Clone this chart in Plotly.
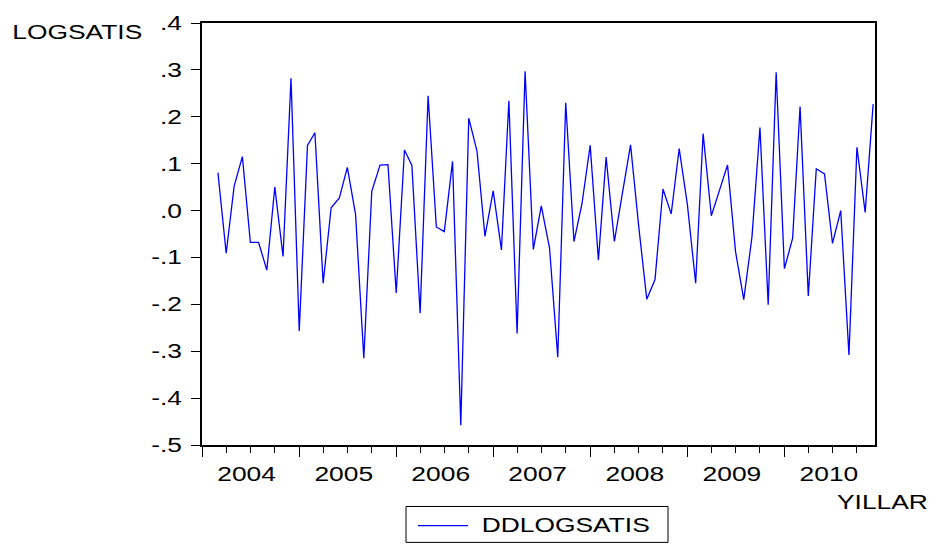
import pandas as pd
import plotly.graph_objects as go

# Monthly second difference of log sales, 2004M03 - 2010M12
first_month = "2004-03-01"
ddlogsatis = [
    0.081, -0.091, 0.052, 0.115, -0.068, -0.068, -0.127, 0.050, -0.098, 0.282,
    -0.257, 0.139, 0.166, -0.155, 0.006, 0.027, 0.092, -0.008, -0.315, 0.041,
    0.097, 0.098, -0.176, 0.129, 0.096, -0.219, 0.245, -0.035, -0.045, 0.105,
    -0.458, 0.197, 0.127, -0.055, 0.042, -0.084, 0.234, -0.262, 0.297, -0.083,
    0.010, -0.080, -0.313, 0.230, -0.066, 0.014, 0.139, -0.106, 0.114, -0.066,
    0.036, 0.140, -0.030, -0.189, -0.147, 0.046, -0.007, 0.132, 0.012, -0.155,
    0.164, -0.011, 0.042, 0.097, -0.087, -0.190, -0.056, 0.177, -0.201, 0.295,
    -0.124, -0.059, 0.222, -0.182, 0.089, 0.078, -0.070, 0.000, -0.308, 0.135,
    -0.004, 0.227,
]
y_tickvals = [-0.5, -0.4, -0.3, -0.2, -0.1, 0.0, 0.1, 0.2, 0.3, 0.4]
y_ticktext = ["-.5", "-.4", "-.3", "-.2", "-.1", ".0", ".1", ".2", ".3", ".4"]

series_name = "DDLOGSATIS"
y_title = "LOGSATIS"
x_title = "YILLAR"

months = pd.date_range(first_month, periods=len(ddlogsatis), freq="MS")

W, H = 936, 551
L, R, T, B = 202, 61, 16, 106
PW, PH = W - L - R, H - T - B
FONT = "Liberation Sans, Arial, sans-serif"
FS = 20
TEXT_WIDEN = 1.32  # horizontal widening applied to every label


def px(x):
    return (x - L) / PW


def py(y):
    return (H - B - y) / PH


fig = go.Figure()
fig.add_trace(go.Scatter(
    x=months, y=ddlogsatis, mode="lines", name=series_name,
    line=dict(color="#0000ff", width=1.3), showlegend=False,
))

fig.update_layout(
    width=W, height=H,
    margin=dict(l=L, r=R, t=T, b=B, pad=0),
    paper_bgcolor="white", plot_bgcolor="white",
    font=dict(family=FONT, size=FS, color="black"),
    xaxis=dict(
        type="date", range=["2004-01-01", "2010-12-08"],
        tick0="2004-01-01", dtick="M12", tickformat="%Y", ticklabelmode="period",
        ticklabelshift=-4,
        ticks="outside", ticklen=10, tickwidth=1.3, tickcolor="black",
        minor=dict(dtick="M3", tick0="2004-01-01", ticks="outside", ticklen=6,
                   tickwidth=1.3, tickcolor="black", showgrid=False),
        showline=True, linecolor="black", linewidth=2, mirror=True,
        showgrid=False, zeroline=False,
    ),
    yaxis=dict(
        range=[-0.5, 0.4], tickvals=y_tickvals, ticktext=y_ticktext,
        ticks="outside", ticklen=9, tickwidth=1.3, tickcolor="black",
        ticklabelstandoff=5,
        showline=True, linecolor="black", linewidth=2, mirror=True,
        showgrid=False, zeroline=False,
    ),
)

# axis captions
fig.add_annotation(text=y_title, xref="paper", yref="paper", x=px(77), y=py(25.5),
                   xanchor="center", yanchor="middle", showarrow=False)
fig.add_annotation(text=x_title, xref="paper", yref="paper", x=px(882.5), y=py(503),
                   xanchor="center", yanchor="middle", showarrow=False)

# legend box below the plot
fig.add_shape(type="rect", xref="paper", yref="paper",
              x0=px(406), x1=px(668), y0=py(544), y1=py(507.5),
              line=dict(color="black", width=1), fillcolor="white")
fig.add_shape(type="line", xref="paper", yref="paper",
              x0=px(418), x1=px(468), y0=py(527), y1=py(527),
              line=dict(color="#0000ff", width=1.3))
fig.add_annotation(text=series_name, xref="paper", yref="paper", x=px(565), y=py(526),
                   xanchor="center", yanchor="middle", showarrow=False)

# widen each text element about its anchor point
widen_js = """
var gd = document.getElementById('{plot_id}');
gd.querySelectorAll('svg text').forEach(function (t) {
    var b = t.getBBox();
    var anchor = t.getAttribute('text-anchor') || 'start';
    var ax = anchor === 'end' ? b.x + b.width
           : anchor === 'middle' ? b.x + b.width / 2 : b.x;
    var tr = t.getAttribute('transform') || '';
    t.setAttribute('transform', tr + ' translate(' + ax + ',0) scale(%s,1) translate(' + (-ax) + ',0)');
});
""" % TEXT_WIDEN

fig.write_html("out.html", post_script=widen_js)
